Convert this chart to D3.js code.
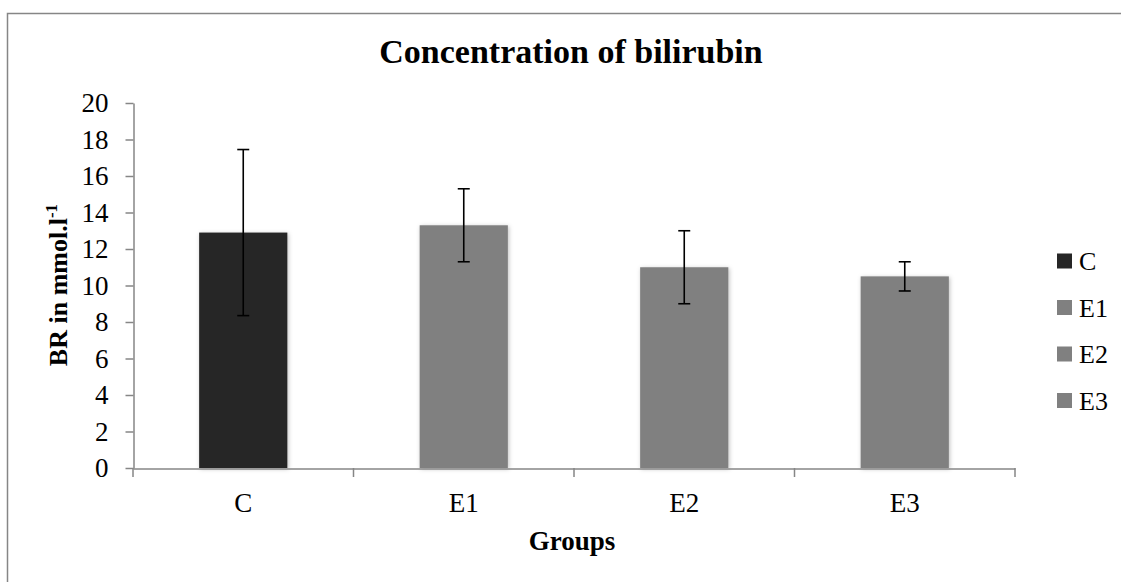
<!DOCTYPE html>
<html>
<head>
  <meta charset='utf-8'>
  <title>Concentration of bilirubin</title>
  <script src='https://cdn.jsdelivr.net/npm/d3@7/dist/d3.min.js'></script>
  <style>
    body { margin: 0; background: #fff; }
    text { font-family: 'Liberation Serif', 'DejaVu Serif', serif; fill: #000; }
  </style>
</head>
<body>
  <svg id='chart' width='1121' height='582'></svg>
  <script>
    // chart values
    const groups = ['C', 'E1', 'E2', 'E3'];
    const means = [12.9, 13.3, 11.0, 10.5];
    const errors = [4.55, 2.0, 2.0, 0.8];
    const barColors = ['#262626', '#808080', '#808080', '#808080'];
    const yTicks = [0, 2, 4, 6, 8, 10, 12, 14, 16, 18, 20];

    const data = groups.map((g, i) => ({
        group: g, mean: means[i], err: errors[i], color: barColors[i]
    }));

    const svg = d3.select('#chart');
    const axisColor = '#868686';
    const font = "'Liberation Serif', serif";

    // shadow under bars
    const defs = svg.append('defs');
    defs.append('filter')
        .attr('id', 'shadow')
        .attr('x', '-10%').attr('y', '-5%')
        .attr('width', '120%').attr('height', '110%')
      .append('feDropShadow')
        .attr('dx', 1).attr('dy', 1)
        .attr('stdDeviation', 2)
        .attr('flood-color', '#000')
        .attr('flood-opacity', 0.25);

    // outer frame (runs past right/bottom edge like the picture)
    svg.append('rect')
        .attr('x', 7.5).attr('y', 13.5)
        .attr('width', 1130).attr('height', 600)
        .attr('fill', 'none')
        .attr('stroke', axisColor)
        .attr('stroke-width', 1.5);

    const scaleX = d3.scaleBand()
        .domain(groups)
        .range([133, 1015])
        .paddingInner(0.6)
        .paddingOuter(0.3);
    const scaleY = d3.scaleLinear()
        .domain([0, 20])
        .range([468, 103]);

    // y axis
    const yAxis = svg.append('g')
        .attr('transform', 'translate(133.5,0)')
        .call(d3.axisLeft(scaleY).tickValues(yTicks).tickSize(8).tickSizeOuter(0).tickPadding(17));
    yAxis.select('.domain').attr('stroke', axisColor).attr('stroke-width', 1.5);
    yAxis.selectAll('.tick line').attr('stroke', axisColor).attr('stroke-width', 1.5);
    yAxis.selectAll('.tick text')
        .style('font-size', '27px')
        .style('font-family', font)
        .attr('fill', '#000');

    // bars
    svg.append('g')
        .selectAll('rect')
        .data(data)
        .join('rect')
        .attr('x', (d) => scaleX(d.group))
        .attr('y', (d) => scaleY(d.mean))
        .attr('width', scaleX.bandwidth())
        .attr('height', (d) => scaleY(0) - scaleY(d.mean))
        .attr('fill', (d) => d.color)
        .attr('filter', 'url(#shadow)');

    // x axis
    const xAxis = svg.append('g')
        .attr('transform', 'translate(0,468.5)')
        .call(d3.axisBottom(scaleX).tickSize(0).tickSizeOuter(0).tickPadding(24));
    xAxis.select('.domain').attr('stroke', axisColor).attr('stroke-width', 1.5);
    xAxis.selectAll('.tick text')
        .style('font-size', '27px')
        .style('font-family', font)
        .attr('fill', '#000');
    // boundary ticks between categories
    const bounds = groups.map((g) => scaleX(g) - scaleX.step() * 0.3).concat([scaleX.range()[1]]);
    svg.append('g')
        .selectAll('line')
        .data(bounds)
        .join('line')
        .attr('x1', (d) => d).attr('x2', (d) => d)
        .attr('y1', 468).attr('y2', 477)
        .attr('stroke', axisColor)
        .attr('stroke-width', 1.5);

    // error bars
    const eb = svg.append('g')
        .selectAll('g')
        .data(data)
        .join('g')
        .attr('stroke', '#000')
        .attr('stroke-width', 1.6);
    const cx = (d) => scaleX(d.group) + scaleX.bandwidth() / 2;
    eb.append('line')
        .attr('x1', cx).attr('x2', cx)
        .attr('y1', (d) => scaleY(d.mean + d.err))
        .attr('y2', (d) => scaleY(d.mean - d.err));
    eb.append('line')
        .attr('x1', (d) => cx(d) - 6).attr('x2', (d) => cx(d) + 6)
        .attr('y1', (d) => scaleY(d.mean + d.err))
        .attr('y2', (d) => scaleY(d.mean + d.err));
    eb.append('line')
        .attr('x1', (d) => cx(d) - 6).attr('x2', (d) => cx(d) + 6)
        .attr('y1', (d) => scaleY(d.mean - d.err))
        .attr('y2', (d) => scaleY(d.mean - d.err));

    // title
    svg.append('text')
        .attr('x', 571).attr('y', 63)
        .attr('text-anchor', 'middle')
        .style('font-size', '34px')
        .style('font-weight', 'bold')
        .text('Concentration of bilirubin');

    // axis titles
    svg.append('text')
        .attr('x', 572).attr('y', 550)
        .attr('text-anchor', 'middle')
        .style('font-size', '27px')
        .style('font-weight', 'bold')
        .text('Groups');
    const yTitle = svg.append('text')
        .attr('transform', 'translate(67,285) rotate(-90)')
        .attr('text-anchor', 'middle')
        .style('font-size', '26px')
        .style('font-weight', 'bold');
    yTitle.append('tspan').text('BR in mmol.l');
    yTitle.append('tspan').attr('dy', -10).style('font-size', '17px').text('-1');

    // legend
    const legend = svg.append('g')
        .selectAll('g')
        .data(data)
        .join('g')
        .attr('transform', (d, i) => `translate(1057, ${261 + i * 46.5})`);
    legend.append('rect')
        .attr('x', 0).attr('y', -7.5)
        .attr('width', 15).attr('height', 15)
        .attr('fill', (d) => d.color);
    legend.append('text')
        .attr('x', 22).attr('y', 9)
        .style('font-size', '26px')
        .text((d) => d.group);
  </script>
</body>
</html>
